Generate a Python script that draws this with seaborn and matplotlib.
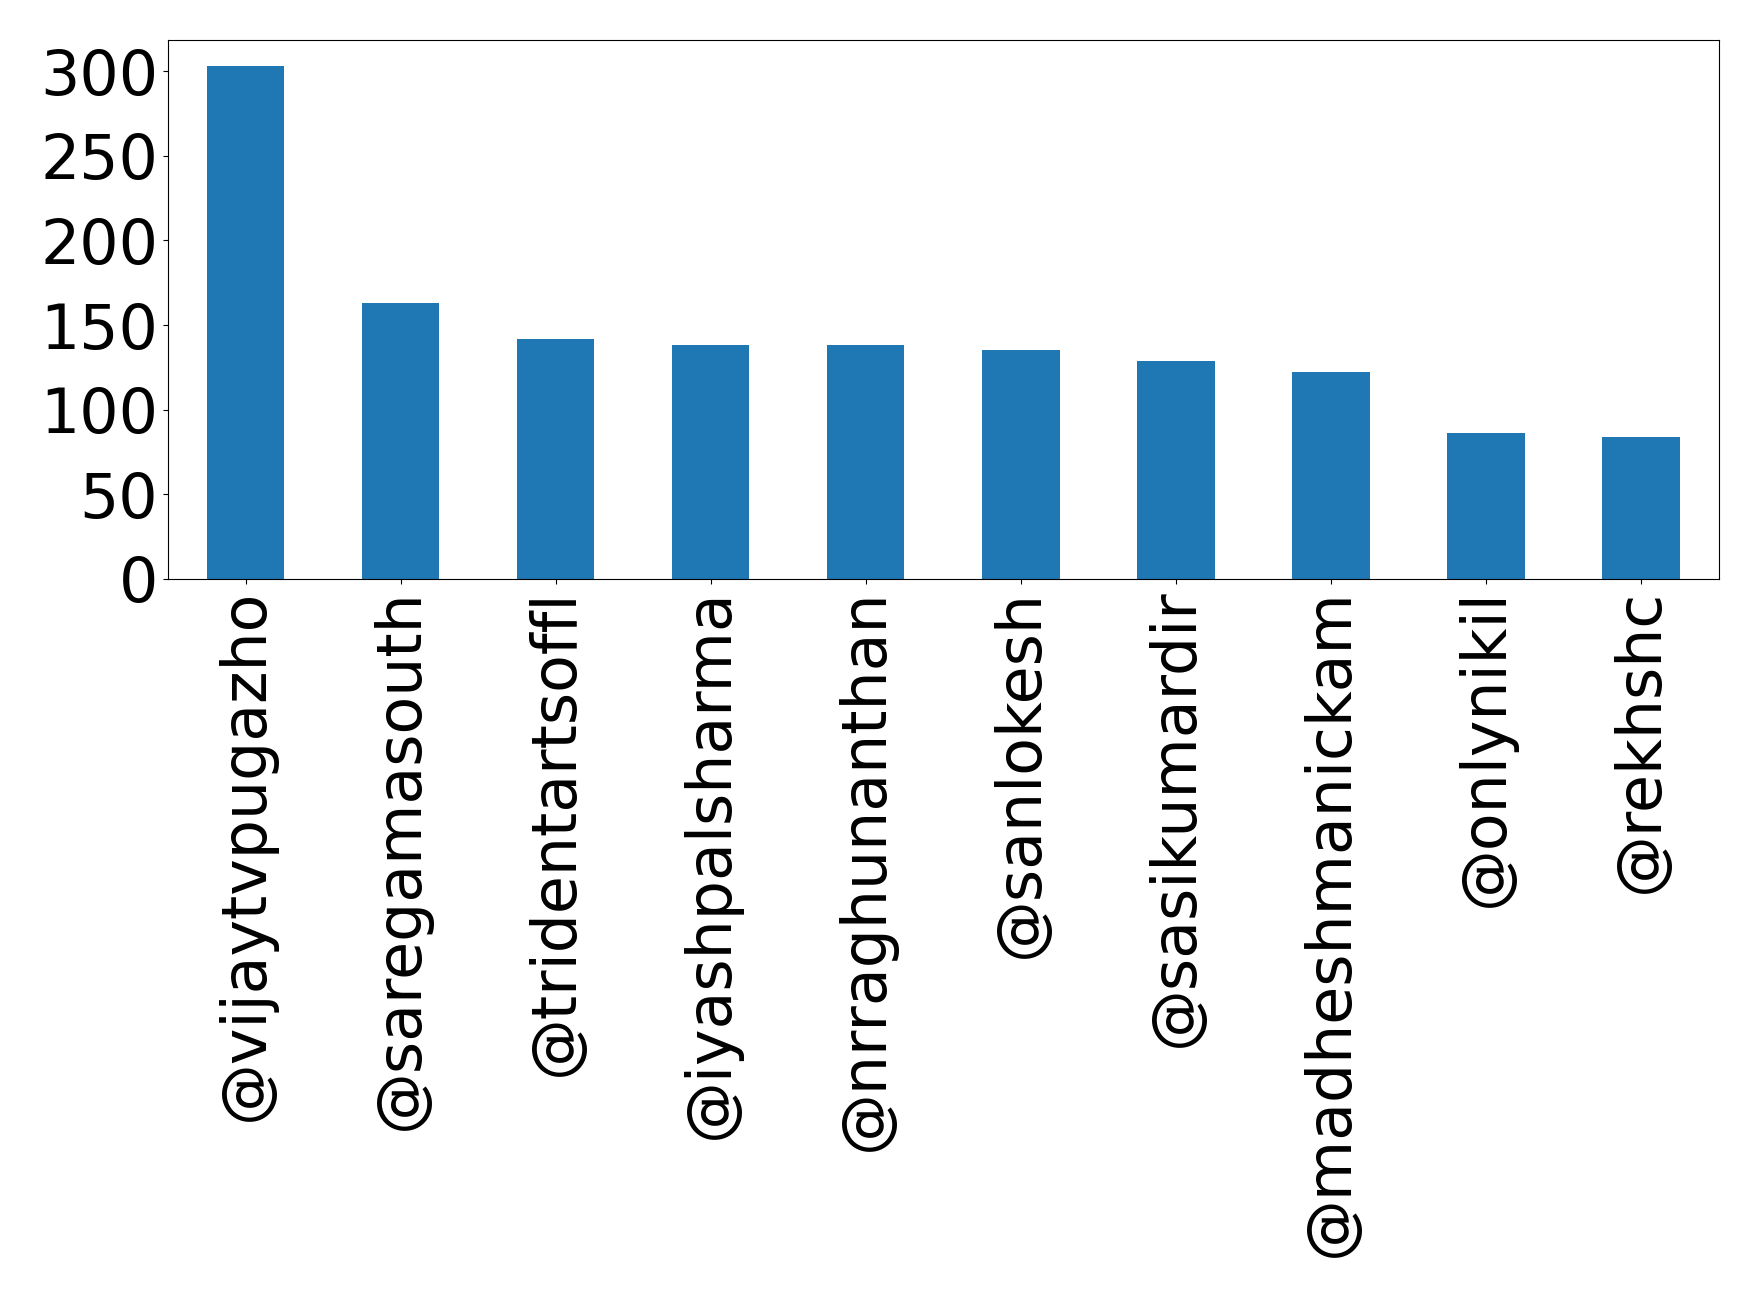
import matplotlib
matplotlib.use("Agg")
import matplotlib.pyplot as plt
from matplotlib.ticker import MultipleLocator
import seaborn as sns
import pandas as pd

# Top mentioned accounts and their counts
accounts = ["@vijaytvpugazho", "@saregamasouth", "@tridentartsoffl", "@iyashpalsharma",
            "@nrraghunanthan", "@sanlokesh", "@sasikumardir", "@madheshmanickam",
            "@onlynikil", "@rekhshc"]
counts = [303, 163, 142, 138, 138, 135, 129, 122, 86, 84]

df = pd.DataFrame({"account": accounts, "count": counts})

fig, ax = plt.subplots(figsize=(17.59, 13.04), dpi=100)
fig.subplots_adjust(left=0.0955, right=0.977, top=0.969, bottom=0.556)

sns.barplot(data=df, x="account", y="count", color="#1f77b4", saturation=1,
            width=0.5, ax=ax)

ax.set_xlim(-0.5, len(accounts) - 0.5)
ax.yaxis.set_major_locator(MultipleLocator(50))
ax.set_xlabel("")
ax.set_ylabel("")
ax.tick_params(axis="both", labelsize=44.5)
plt.setp(ax.get_xticklabels(), rotation=90)

fig.savefig("out.png", dpi=100)
